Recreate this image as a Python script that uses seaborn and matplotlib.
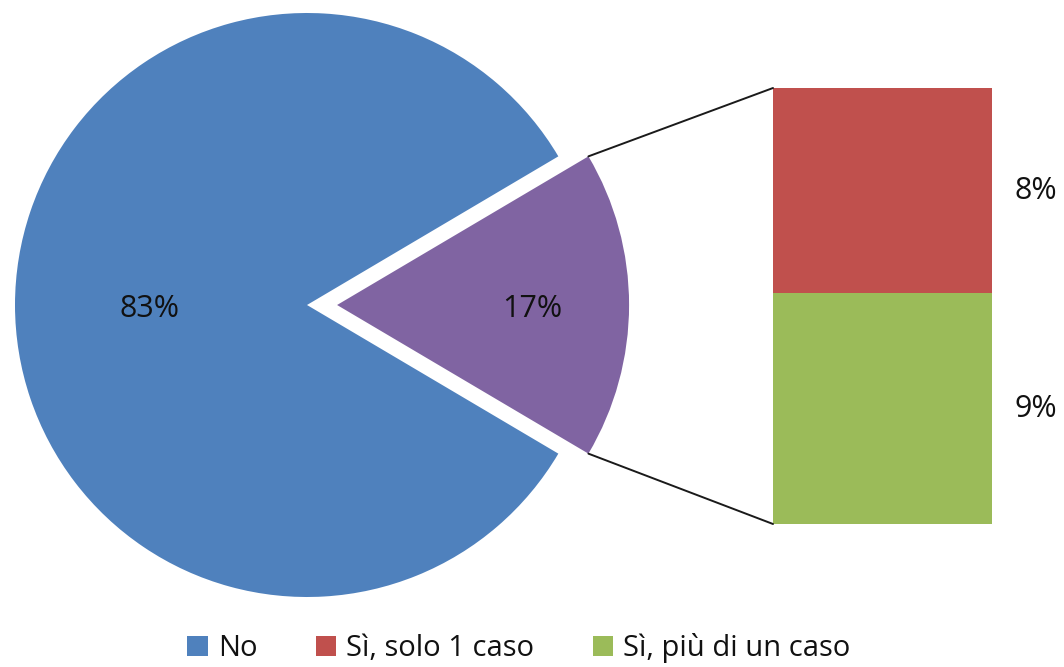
import numpy as np
import matplotlib
matplotlib.use("Agg")
import matplotlib.pyplot as plt
from matplotlib.patches import ConnectionPatch, Patch
import seaborn as sns
import pandas as pd

# ---- data ----
categories = ["No", "Sì, solo 1 caso", "Sì, più di un caso"]
values = [83, 8, 9]
colors = ["#4F81BD", "#C0504D", "#9BBB59"]
yes_color = "#8064A2"

sns.set_style("white")
plt.rcParams["font.family"] = ["Open Sans", "DejaVu Sans"]
plt.rcParams["text.color"] = "#111111"

W, H = 1064, 667
fig = plt.figure(figsize=(W / 100, H / 100), dpi=100)

# ---- pie ----
R = 292.0
cx, cy = 307.0, 305.0
ax = fig.add_axes([0, 0, 1, 1])
yes_total = values[1] + values[2]
pie_vals = [yes_total, values[0]]
start = -(yes_total / sum(values) * 360) / 2
wedges, _ = ax.pie(pie_vals, colors=[yes_color, colors[0]], startangle=start,
                   explode=[0.103, 0], radius=1.0, counterclock=True,
                   wedgeprops=dict(linewidth=0))
ax.set_aspect("auto")
ax.set_xlim(-cx / R, (W - cx) / R)
ax.set_ylim(-(H - cy) / R, cy / R)
ax.axis("off")

fs = 22
# pie labels
for w, val, dist in zip(wedges, pie_vals, [0.67, 0.54]):
    mid = np.deg2rad((w.theta1 + w.theta2) / 2)
    x = w.center[0] + dist * w.r * np.cos(mid)
    y = w.center[1] + dist * w.r * np.sin(mid)
    ax.text(x, y - 0.015, f"{val}%", ha="center", va="center", fontsize=fs, color="#111111")

# ---- bar of pie ----
bx0, bx1, by0, by1 = 773, 992, 88, 524
bax = fig.add_axes([bx0 / W, (H - by1) / H, (bx1 - bx0) / W, (by1 - by0) / H])
df_total = pd.DataFrame({"g": ["Sì"], "v": [yes_total]})
df_more = pd.DataFrame({"g": ["Sì"], "v": [values[2]]})
sns.barplot(data=df_total, x="g", y="v", color=colors[1], saturation=1, width=0.8,
            linewidth=0, ax=bax)
sns.barplot(data=df_more, x="g", y="v", color=colors[2], saturation=1, width=0.8,
            linewidth=0, ax=bax)
bax.set_xlim(-0.4, 0.4)
bax.set_ylim(0, yes_total)
bax.axis("off")

seg_mid = [values[2] + values[1] / 2, values[2] / 2]
for val, ym in zip([values[1], values[2]], seg_mid):
    bax.annotate(f"{val}%", xy=(0.4, ym), xytext=(44 * 0.72, 0), textcoords="offset points",
                 ha="center", va="center", fontsize=fs, color="#111111", annotation_clip=False)

# connectors
w = wedges[0]
for th, yb in [(w.theta2, yes_total), (w.theta1, 0)]:
    t = np.deg2rad(th)
    px = w.center[0] + w.r * np.cos(t)
    py = w.center[1] + w.r * np.sin(t)
    con = ConnectionPatch(xyA=(px, py), coordsA=ax.transData, xyB=(-0.4, yb),
                          coordsB=bax.transData, color="#1a1a1a", linewidth=1.4)
    fig.add_artist(con)

# ---- legend ----
handles = [Patch(facecolor=c, edgecolor="none") for c in colors]
leg = fig.legend(handles, categories, loc="center", bbox_to_anchor=(519 / W, 1 - 648 / H), ncol=3,
                 frameon=False, fontsize=21, handlelength=0.7, handleheight=0.7,
                 handletextpad=0.35, columnspacing=2.0)
for t in leg.get_texts():
    t.set_color("#111111")

fig.savefig("out.png", dpi=100, facecolor="white")
